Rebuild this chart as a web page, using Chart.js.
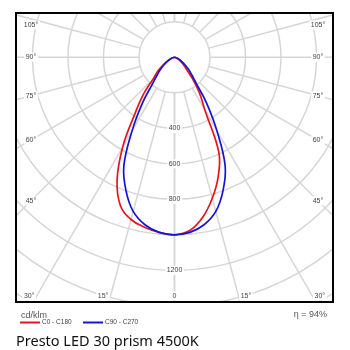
<!DOCTYPE html>
<html>
<head>
<meta charset="utf-8">
<script src="https://cdn.jsdelivr.net/npm/chart.js@4.4.1/dist/chart.umd.min.js"></script>
<style>
  html, body { margin: 0; padding: 0; background: #fff; }
</style>
</head>
<body>
<canvas id="chart" width="350" height="350"></canvas>
<script>
// gamma angles, degrees from nadir
const gammaAngles = [0, 5, 10, 15, 20, 25, 30, 35, 40, 45, 50, 55, 60, 65, 70, 75, 80, 85, 90];

// luminous intensity, cd/klm
const c0Values   = [1000, 980, 915, 822, 718, 591, 340, 245, 158, 95, 66, 46, 32, 22, 14, 8, 4, 2, 0];
const c180Values = [1000, 990, 972, 946, 890, 765, 583, 389, 274, 165, 125, 85, 55, 35, 20, 11, 5, 2, 0];
const c90Values  = [1000, 990, 958, 899, 799, 675, 477, 315, 188, 135, 100, 70, 48, 32, 20, 11, 5, 2, 0];
const c270Values = [1000, 990, 958, 899, 799, 675, 477, 315, 188, 135, 100, 70, 48, 32, 20, 11, 5, 2, 0];

// polar grid
const ringValues = [200, 400, 600, 800, 1000, 1200, 1400, 1600, 1800, 2000];
const ringLabelValues = [400, 600, 800, 1200];
const spokeAngles = [0, 15, 30, 45, 60, 75, 90, 105, 120, 135, 150, 165, 180];
const sideLabelAngles = [45, 60, 75, 90, 105];
const bottomLabelAngles = [0, 15, 30];

const rad = d => d * Math.PI / 180;

// left half goes out from the centre at 90°, down to nadir, then up the right half
function polarCurve(left, right) {
  const pts = [];
  for (let i = gammaAngles.length - 1; i >= 0; i--) {
    const g = rad(gammaAngles[i]);
    pts.push({ x: -left[i] * Math.sin(g), y: -left[i] * Math.cos(g) });
  }
  for (let i = 1; i < gammaAngles.length; i++) {
    const g = rad(gammaAngles[i]);
    pts.push({ x: right[i] * Math.sin(g), y: -right[i] * Math.cos(g) });
  }
  return pts;
}

const GRID = '#d6d6d6';
const SMALL_FONT = '7px "Liberation Sans", Arial, sans-serif';

function labelBox(ctx, text, x, y) {
  const w = ctx.measureText(text).width;
  ctx.fillStyle = '#fff';
  ctx.fillRect(x - w / 2 - 1.5, y - 4.5, w + 3, 9);
  ctx.fillStyle = '#444';
  ctx.fillText(text, x, y);
}

const polarGrid = {
  id: 'polarGrid',
  beforeDatasetsDraw(chart) {
    const { ctx, chartArea: a, scales: { x, y } } = chart;
    const cx = x.getPixelForValue(0), cy = y.getPixelForValue(0);
    const r = v => x.getPixelForValue(v) - cx;

    ctx.save();
    ctx.beginPath();
    ctx.rect(a.left, a.top, a.width, a.height);
    ctx.clip();
    ctx.strokeStyle = GRID;
    ctx.lineWidth = 1.5;
    ringValues.forEach(v => {
      ctx.beginPath();
      ctx.arc(cx, cy, r(v), 0, Math.PI * 2);
      ctx.stroke();
    });
    const inner = ringValues[0], outer = 3000;
    spokeAngles.forEach(deg => {
      const g = rad(deg);
      [-1, 1].forEach(s => {
        ctx.beginPath();
        ctx.moveTo(x.getPixelForValue(s * inner * Math.sin(g)), y.getPixelForValue(-inner * Math.cos(g)));
        ctx.lineTo(x.getPixelForValue(s * outer * Math.sin(g)), y.getPixelForValue(-outer * Math.cos(g)));
        ctx.stroke();
      });
    });

    ctx.font = SMALL_FONT;
    ctx.textAlign = 'center';
    ctx.textBaseline = 'middle';

    // intensity labels down the nadir line
    ringLabelValues.forEach(v => labelBox(ctx, String(v), cx, cy + r(v)));

    // angle labels along the left and right frame
    sideLabelAngles.forEach(deg => {
      const g = rad(deg);
      [-1, 1].forEach(s => {
        const lx = s < 0 ? a.left + 14 : a.right - 14;
        const t = Math.abs(lx - cx) / Math.sin(g);
        const ly = Math.max(a.top + 11, cy + t * Math.cos(g));
        labelBox(ctx, deg + '°', lx, ly);
      });
    });

    // angle labels along the bottom frame
    bottomLabelAngles.forEach(deg => {
      const g = rad(deg);
      const ly = a.bottom - 5;
      const d = (ly - cy) * Math.tan(g);
      if (deg === 0) {
        labelBox(ctx, '0', cx, ly);
        return;
      }
      [-1, 1].forEach(s => labelBox(ctx, deg + '°', cx + s * (d + 7.5), ly));
    });
    ctx.restore();
  }
};

const frameAndFooter = {
  id: 'frameAndFooter',
  afterDraw(chart) {
    const { ctx, chartArea: a } = chart;
    ctx.save();
    ctx.strokeStyle = '#000';
    ctx.lineWidth = 2;
    ctx.strokeRect(a.left - 1, a.top - 1, a.width + 2, a.height + 2);

    ctx.textBaseline = 'alphabetic';
    ctx.textAlign = 'left';
    ctx.fillStyle = '#555';
    ctx.font = '9px "Liberation Sans", Arial, sans-serif';
    ctx.fillText('cd/klm', a.left + 4, a.bottom + 17);

    ctx.textAlign = 'right';
    ctx.fillText('η = 94%', a.right - 5, a.bottom + 16);

    // legend
    const ly = a.bottom + 21.5;
    ctx.textAlign = 'left';
    ctx.textBaseline = 'middle';
    ctx.font = '6.5px "Liberation Sans", Arial, sans-serif';
    ctx.lineWidth = 2;
    chart.data.datasets.slice().reverse().forEach((ds, i) => {
      const x0 = a.left + 3 + i * 63;
      ctx.strokeStyle = ds.borderColor;
      ctx.beginPath();
      ctx.moveTo(x0, ly);
      ctx.lineTo(x0 + 20, ly);
      ctx.stroke();
      ctx.fillStyle = '#444';
      ctx.fillText(ds.label, x0 + 22, ly);
    });

    ctx.textBaseline = 'alphabetic';
    ctx.fillStyle = '#111';
    ctx.font = '14.5px "Noto Sans", sans-serif';
    ctx.fillText('Presto LED 30 prism 4500K', a.left - 1, a.bottom + 45);
    ctx.restore();
  }
};

new Chart(document.getElementById('chart'), {
  type: 'scatter',
  data: {
    datasets: [
      {
        label: 'C90 - C270',
        data: polarCurve(c270Values, c90Values),
        borderColor: '#1414d8',
        order: 0
      },
      {
        label: 'C0 - C180',
        data: polarCurve(c180Values, c0Values),
        borderColor: '#e8141c',
        order: 1
      }
    ]
  },
  options: {
    responsive: false,
    animation: false,
    showLine: true,
    layout: { padding: { left: 17, top: 14, right: 18, bottom: 49 } },
    elements: {
      point: { radius: 0, hoverRadius: 0 },
      line: { borderWidth: 1.7, tension: 0.4, fill: false }
    },
    scales: {
      x: { type: 'linear', display: false, min: -887, max: 887 },
      y: { type: 'linear', display: false, min: -1373, max: 244 }
    },
    plugins: {
      legend: { display: false },
      tooltip: { enabled: false }
    }
  },
  plugins: [polarGrid, frameAndFooter]
});
</script>
</body>
</html>
